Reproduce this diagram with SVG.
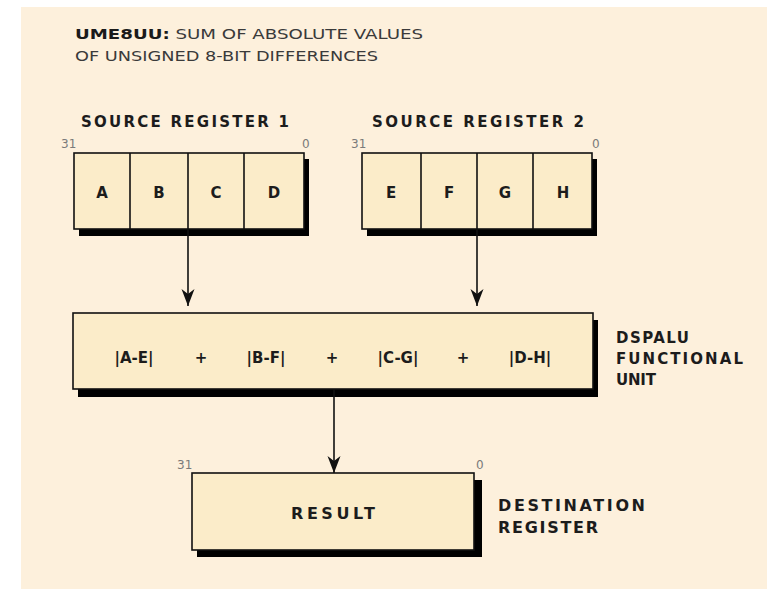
<svg xmlns="http://www.w3.org/2000/svg" width="767" height="589" viewBox="0 0 767 589">
  <defs>
    <style>
      .panel { fill: #fdf0dc; }
      .box { fill: #fbecc9; stroke: #111; stroke-width: 1.6; }
      .shadow { fill: #000; }
      .div { stroke: #111; stroke-width: 1.6; }
      .lbl { font-family: "DejaVu Sans", "Liberation Sans", sans-serif; font-weight: bold; fill: #1c1c1c; }
      .cell { font-family: "DejaVu Sans", "Liberation Sans", sans-serif; font-weight: bold; font-size: 15px; fill: #1c1c1c; text-anchor: middle; }
      .bit { font-family: "DejaVu Sans", "Liberation Sans", sans-serif; font-size: 12px; fill: #7a7a7a; }
      .title { font-family: "DejaVu Sans", "Liberation Sans", sans-serif; font-size: 14px; fill: #3a3a3a; }
      .conn { stroke: #111; stroke-width: 1.6; fill: none; marker-end: url(#head); }
    </style>
    <marker id="head" markerUnits="userSpaceOnUse" markerWidth="18" markerHeight="14" refX="17" refY="6.5" orient="auto">
      <path d="M0,0 L17,6.5 L0,13 L5,6.5 Z" fill="#111"/>
    </marker>
  </defs>

  <rect class="panel" x="21" y="7" width="746" height="582"/>

  <!-- heading -->
  <g id="heading">
    <text class="title" x="75" y="39" textLength="348" lengthAdjust="spacingAndGlyphs"><tspan font-weight="bold" fill="#1a1a1a">UME8UU:</tspan> SUM OF ABSOLUTE VALUES</text>
    <text class="title" x="75" y="61" textLength="303" lengthAdjust="spacingAndGlyphs">OF UNSIGNED 8-BIT DIFFERENCES</text>
  </g>

  <!-- source register 1 -->
  <g id="src1">
    <text class="lbl" x="81" y="127" font-size="15" textLength="208" lengthAdjust="spacing">SOURCE REGISTER 1</text>
    <text class="bit" x="61" y="148">31</text>
    <text class="bit" x="302" y="148">0</text>
    <rect class="shadow" x="79" y="159" width="230" height="77"/>
    <rect class="box" x="74" y="153" width="230" height="76"/>
    <line class="div" x1="130" y1="153" x2="130" y2="229"/>
    <line class="div" x1="188" y1="153" x2="188" y2="229"/>
    <line class="div" x1="244" y1="153" x2="244" y2="229"/>
    <text class="cell" x="102" y="198">A</text>
    <text class="cell" x="159" y="198">B</text>
    <text class="cell" x="216" y="198">C</text>
    <text class="cell" x="274" y="198">D</text>
  </g>

  <!-- source register 2 -->
  <g id="src2">
    <text class="lbl" x="372" y="127" font-size="15" textLength="212" lengthAdjust="spacing">SOURCE REGISTER 2</text>
    <text class="bit" x="351" y="148">31</text>
    <text class="bit" x="592" y="148">0</text>
    <rect class="shadow" x="367" y="159" width="230" height="77"/>
    <rect class="box" x="362" y="153" width="230" height="76"/>
    <line class="div" x1="421" y1="153" x2="421" y2="229"/>
    <line class="div" x1="477" y1="153" x2="477" y2="229"/>
    <line class="div" x1="533" y1="153" x2="533" y2="229"/>
    <text class="cell" x="391" y="198">E</text>
    <text class="cell" x="449" y="198">F</text>
    <text class="cell" x="505" y="198">G</text>
    <text class="cell" x="563" y="198">H</text>
  </g>

  <!-- functional unit -->
  <g id="dspalu">
    <rect class="shadow" x="78" y="320" width="520" height="77"/>
    <rect class="box" x="73" y="313" width="520" height="76"/>
    <text class="cell" x="134" y="363" font-size="14">|A-E|</text>
    <text class="cell" x="201" y="363" font-size="14">+</text>
    <text class="cell" x="266" y="363" font-size="14">|B-F|</text>
    <text class="cell" x="332" y="363" font-size="14">+</text>
    <text class="cell" x="398" y="363" font-size="14">|C-G|</text>
    <text class="cell" x="463" y="363" font-size="14">+</text>
    <text class="cell" x="530" y="363" font-size="14">|D-H|</text>
    <text class="lbl" x="616" y="343" font-size="15" textLength="73" lengthAdjust="spacing">DSPALU</text>
    <text class="lbl" x="616" y="364" font-size="15" textLength="127" lengthAdjust="spacing">FUNCTIONAL</text>
    <text class="lbl" x="616" y="385" font-size="15" textLength="40" lengthAdjust="spacing">UNIT</text>
  </g>

  <!-- destination register -->
  <g id="result">
    <text class="bit" x="177" y="469">31</text>
    <text class="bit" x="476" y="469">0</text>
    <rect class="shadow" x="197" y="480" width="285" height="77"/>
    <rect class="box" x="192" y="473" width="282" height="77"/>
    <text class="lbl" x="291" y="519" font-size="16" textLength="84" lengthAdjust="spacing">RESULT</text>
    <text class="lbl" x="498" y="511" font-size="16" textLength="147" lengthAdjust="spacing">DESTINATION</text>
    <text class="lbl" x="498" y="533" font-size="16" textLength="100" lengthAdjust="spacing">REGISTER</text>
  </g>

  <!-- connectors -->
  <g id="connectors">
    <line class="conn" x1="188" y1="229" x2="188" y2="306"/>
    <line class="conn" x1="477" y1="229" x2="477" y2="306"/>
    <line class="conn" x1="334" y1="389" x2="334" y2="473"/>
  </g>
</svg>
